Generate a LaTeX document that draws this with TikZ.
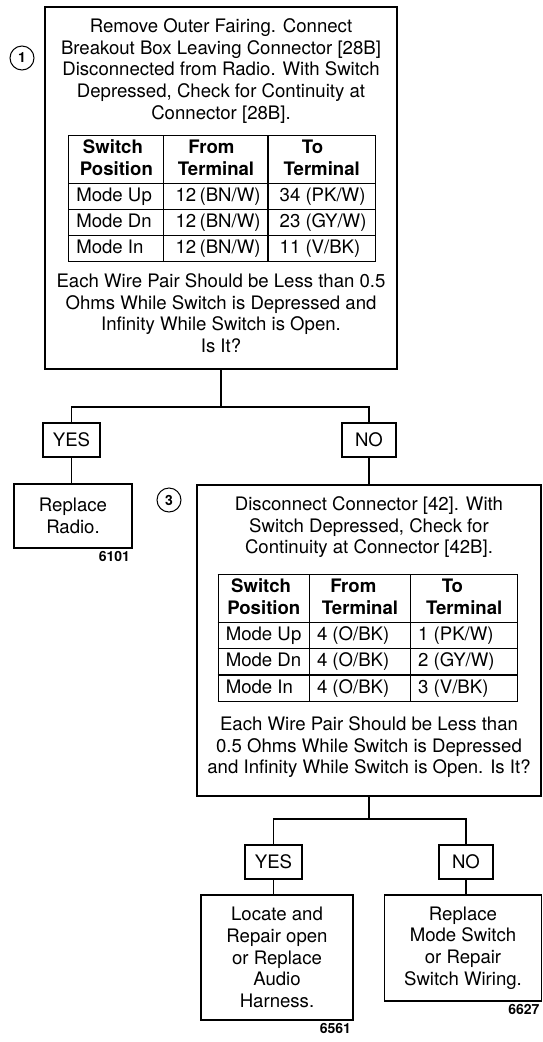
\documentclass[tikz,border=0pt]{standalone}
\usepackage{fontspec}
\setmainfont{TeX Gyre Heros}
\usepackage{array}
\usetikzlibrary{positioning}
\setlength\arrayrulewidth{1.2pt}
\newcolumntype{L}[1]{>{\raggedright\arraybackslash}p{#1}}
\newcolumntype{M}[1]{>{\raggedright\arraybackslash\hspace*{4pt}}p{#1}}
\newcommand{\hd}[2]{\centering\bfseries #1\newline #2}

\begin{document}
\begin{tikzpicture}[x=1pt, y=-1pt, line width=1.3pt,
    every node/.style={font=\fontsize{18.6}{21.7}\selectfont},
    qbox/.style={draw, inner sep=0pt},
    para/.style={anchor=north, align=center, inner sep=0pt},
    answer/.style={draw, minimum height=34pt, inner sep=0pt},
    endbox/.style={draw, align=center, inner sep=0pt},
    stepnum/.style={draw, circle, minimum size=24pt, inner sep=0pt, line width=1pt,
        font=\fontsize{14}{16}\selectfont\bfseries},
    refno/.style={anchor=north east, inner sep=2pt,
        font=\fontsize{14}{16}\selectfont\bfseries}]
    \useasboundingbox (0,0) rectangle (543,1042);
    % Step 1
    \node[stepnum] (num1) at (22,58) {1};
    \node[qbox, minimum width=352pt, minimum height=362pt] (step1) at (221,188) {};
    \node[para] (step1text) at (221,16.5) {\strut Remove Outer Fairing. Connect\\
        Breakout Box Leaving Connector [28B]\\ Disconnected from Radio. With Switch\\
        Depressed, Check for Continuity at\\ Connector [28B].};
    \node[inner sep=0pt] (step1tab) at (222,198.5) {%
        \renewcommand\arraystretch{1.152}\setlength\tabcolsep{7pt}%
        \begin{tabular}{|L{80pt}|M{89pt}|M{92pt}|}
        \hline
        \hd{Switch}{Position} & \hd{From}{Terminal} & \hd{To}{Terminal}\tabularnewline \hline
        Mode~Up & 12~(BN/W) & 34~(PK/W)\tabularnewline \hline
        Mode~Dn & 12~(BN/W) & 23~(GY/W)\tabularnewline \hline
        Mode~In & 12~(BN/W) & 11~(V/BK)\tabularnewline \hline
        \end{tabular}};
    \node[para] (step1ask) at (221,271.5) {\strut Each Wire Pair Should be Less than 0.5\\
        Ohms While Switch is Depressed and\\ Infinity While Switch is Open.\\ Is It?};
    % answers of step 1
    \node[answer, minimum width=57pt] (yes1) at (71.5,440) {YES};
    \node[answer, minimum width=54pt] (no1) at (369,440) {NO};
    \coordinate (fork1) at (221,407);
    \draw (step1.south) -- (fork1);
    \draw (yes1.north) |- (fork1) -| (no1.north);
    \node[endbox, minimum width=118pt, minimum height=64pt] (radio) at (73,516) {Replace\\ Radio.};
    \node[refno] (ref6101) at (radio.south east) {6101};
    \draw (yes1.south) -- (yes1.south |- radio.north);
    % Step 3
    \node[stepnum] (num3) at (169,500) {3};
    \node[qbox, minimum width=344pt, minimum height=311pt] (step3) at (369,640.5) {};
    \draw (no1.south) -- (step3.north);
    \node[para] (step3text) at (369,494.5) {\strut Disconnect Connector [42]. With\\
        Switch Depressed, Check for\\ Continuity at Connector [42B].};
    \node[inner sep=0pt] (step3tab) at (368,638) {%
        \renewcommand\arraystretch{1.152}\setlength\tabcolsep{7pt}%
        \begin{tabular}{|L{76pt}|L{86pt}|L{92pt}|}
        \hline
        \hd{Switch}{Position} & \hd{From}{Terminal} & \hd{To}{Terminal}\tabularnewline \hline
        Mode~Up & 4~(O/BK) & 1~(PK/W)\tabularnewline \hline
        Mode~Dn & 4~(O/BK) & 2~(GY/W)\tabularnewline \hline
        Mode~In & 4~(O/BK) & 3~(V/BK)\tabularnewline \hline
        \end{tabular}};
    \node[para] (step3ask) at (369,714.5) {\strut Each Wire Pair Should be Less than\\
        0.5 Ohms While Switch is Depressed\\ and Infinity While Switch is Open. Is It?};
    % answers of step 3
    \node[answer, minimum width=57pt] (yes3) at (273.5,862) {YES};
    \node[answer, minimum width=54pt] (no3) at (466,862) {NO};
    \coordinate (fork3) at (369,819);
    \draw (step3.south) -- (fork3);
    \draw (yes3.north) |- (fork3) -| (no3.north);
    \node[endbox, minimum width=152pt, minimum height=125pt] (harness) at (277,957.5)
        {Locate and\\ Repair open\\ or Replace\\ Audio\\ Harness.};
    \node[refno] (ref6561) at (harness.south east) {6561};
    \node[endbox, minimum width=157pt, minimum height=106pt] (modesw) at (463,948)
        {Replace\\ Mode Switch\\ or Repair\\ Switch Wiring.};
    \node[refno] (ref6627) at (modesw.south east) {6627};
    \draw (yes3.south) -- (yes3.south |- harness.north);
    \draw (no3.south) -- (no3.south |- modesw.north);
\end{tikzpicture}
\end{document}
